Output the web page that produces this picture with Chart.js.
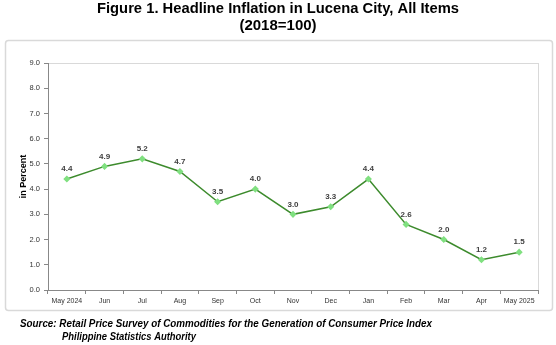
<!DOCTYPE html>
<html>
<head>
<meta charset="utf-8">
<script src="https://cdn.jsdelivr.net/npm/chart.js@4"></script>
<style>
  html, body { margin: 0; padding: 0; background: #fff; }
  #wrap { width: 556px; height: 345px; position: relative; }
</style>
</head>
<body>
<div id="wrap"><canvas id="chart" width="556" height="345"></canvas></div>
<script>
// chart data
const months = ["May 2024", "Jun", "Jul", "Aug", "Sep", "Oct", "Nov", "Dec", "Jan", "Feb", "Mar", "Apr", "May 2025"];
const inflation = [4.4, 4.9, 5.2, 4.7, 3.5, 4.0, 3.0, 3.3, 4.4, 2.6, 2.0, 1.2, 1.5];
const titleLines = ["Figure 1. Headline Inflation in Lucena City, All Items", "(2018=100)"];
const sourceLines = ["Source: Retail Price Survey of Commodities for the Generation of Consumer Price Index",
                     "Philippine Statistics Authority"];

const frame = {
    id: "frame",
    beforeDraw(chart) {
        const ctx = chart.ctx;
        ctx.save();
        ctx.fillStyle = "#fff";
        ctx.fillRect(0, 0, chart.width, chart.height);

        // outer box
        ctx.strokeStyle = "#d9d9d9";
        ctx.lineWidth = 1.5;
        ctx.beginPath();
        ctx.roundRect(5.5, 40.5, 547, 270, 3);
        ctx.stroke();

        // plot border
        const a = chart.chartArea;
        ctx.strokeStyle = "#d9d9d9";
        ctx.lineWidth = 1;
        ctx.strokeRect(Math.round(a.left) + 0.5, Math.round(a.top) + 0.5, a.right - a.left, a.bottom - a.top);

        // title
        ctx.fillStyle = "#000";
        ctx.textAlign = "center";
        ctx.textBaseline = "middle";
        ctx.font = "bold 15px Arial, 'Liberation Sans', sans-serif";
        ctx.fillText(titleLines[0], 278, 9, 362);
        ctx.fillText(titleLines[1], 278, 26);
        ctx.restore();
    },
    afterDatasetsDraw(chart) {
        const ctx = chart.ctx;
        const pts = chart.getDatasetMeta(0).data;
        ctx.save();
        ctx.fillStyle = "#404040";
        ctx.textAlign = "center";
        ctx.textBaseline = "middle";
        ctx.font = "bold 8px Arial, 'Liberation Sans', sans-serif";
        pts.forEach((p, i) => {
            ctx.fillText(inflation[i].toFixed(1), p.x, p.y - 10);
        });
        ctx.restore();
    },
    afterDraw(chart) {
        const ctx = chart.ctx;
        ctx.save();
        ctx.fillStyle = "#000";
        ctx.textAlign = "left";
        ctx.textBaseline = "middle";
        ctx.font = "italic bold 11px Arial, 'Liberation Sans', sans-serif";
        ctx.fillText(sourceLines[0], 20, 324, 412);
        ctx.fillText(sourceLines[1], 62, 337, 134);
        ctx.restore();
    }
};

const ctx = document.getElementById("chart").getContext("2d");
new Chart(ctx, {
    type: "line",
    data: {
        labels: months,
        datasets: [{
            data: inflation,
            borderColor: "#3d8b2d",
            borderWidth: 1.5,
            pointStyle: "rectRot",
            pointRadius: 2.5,
            pointBackgroundColor: "#80e080",
            pointBorderColor: "#80e080",
            tension: 0
        }]
    },
    options: {
        responsive: false,
        animation: false,
        events: [],
        layout: { padding: { left: 10, right: 18, top: 63, bottom: 35 } },
        plugins: {
            legend: { display: false },
            title: { display: false },
            tooltip: { enabled: false }
        },
        scales: {
            x: {
                offset: true,
                afterFit: (s) => { s.height = 20; },
                grid: { offset: true, drawOnChartArea: false, drawTicks: true, tickLength: 4, color: "#888" },
                border: { color: "#888", width: 1 },
                ticks: {
                    color: "#333",
                    font: { family: "Arial, 'Liberation Sans', sans-serif", size: 7 },
                    maxRotation: 0,
                    autoSkip: false,
                    padding: 3
                }
            },
            y: {
                min: 0,
                max: 9,
                afterFit: (s) => { s.width = 38; },
                grid: { drawOnChartArea: false, drawTicks: true, tickLength: 4, color: "#888" },
                border: { color: "#888", width: 1 },
                ticks: {
                    stepSize: 1,
                    color: "#333",
                    font: { family: "Arial, 'Liberation Sans', sans-serif", size: 7.5 },
                    padding: 4,
                    callback: (v) => Number(v).toFixed(1)
                },
                title: {
                    display: true,
                    text: "in Percent",
                    color: "#000",
                    font: { family: "Arial, 'Liberation Sans', sans-serif", size: 9, weight: "bold" },
                    padding: { top: 8, bottom: 0 }
                }
            }
        }
    },
    plugins: [frame]
});
</script>
</body>
</html>
